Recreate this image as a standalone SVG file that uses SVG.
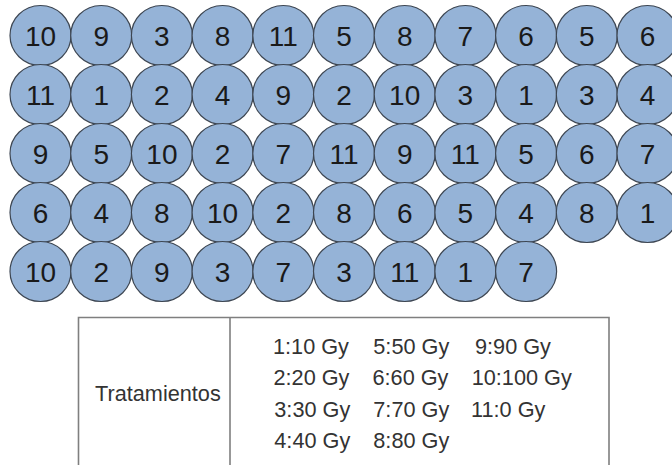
<svg xmlns="http://www.w3.org/2000/svg" width="672" height="465" viewBox="0 0 672 465">
<style>
.c ellipse{fill:#95b3d7;stroke:#3d4652;stroke-width:1.2}
.c text{font-family:"Liberation Sans",Arial,sans-serif;font-size:28px;fill:#1a1a1a;text-anchor:middle}
.t{font-family:"Liberation Sans",Arial,sans-serif;font-size:21.7px;fill:#333}
.tb{fill:none;stroke:#7f7f7f;stroke-width:1.6}
</style>
<rect width="672" height="465" fill="#fff"/>
<g id="wells">
<g id="r0" class="c">
<g id="n0_0"><ellipse cx="40.5" cy="35.5" rx="30.5" ry="30"/><text x="40.5" y="46">10</text></g>
<g id="n0_1"><ellipse cx="101.2" cy="35.5" rx="30.5" ry="30"/><text x="101.2" y="46">9</text></g>
<g id="n0_2"><ellipse cx="161.9" cy="35.5" rx="30.5" ry="30"/><text x="161.9" y="46">3</text></g>
<g id="n0_3"><ellipse cx="222.6" cy="35.5" rx="30.5" ry="30"/><text x="222.6" y="46">8</text></g>
<g id="n0_4"><ellipse cx="283.3" cy="35.5" rx="30.5" ry="30"/><text x="283.3" y="46">11</text></g>
<g id="n0_5"><ellipse cx="344" cy="35.5" rx="30.5" ry="30"/><text x="344" y="46">5</text></g>
<g id="n0_6"><ellipse cx="404.7" cy="35.5" rx="30.5" ry="30"/><text x="404.7" y="46">8</text></g>
<g id="n0_7"><ellipse cx="465.4" cy="35.5" rx="30.5" ry="30"/><text x="465.4" y="46">7</text></g>
<g id="n0_8"><ellipse cx="526.1" cy="35.5" rx="30.5" ry="30"/><text x="526.1" y="46">6</text></g>
<g id="n0_9"><ellipse cx="586.8" cy="35.5" rx="30.5" ry="30"/><text x="586.8" y="46">5</text></g>
<g id="n0_10"><ellipse cx="647.5" cy="35.5" rx="30.5" ry="30"/><text x="647.5" y="46">6</text></g>
</g>
<g id="r1" class="c">
<g id="n1_0"><ellipse cx="40.5" cy="94.5" rx="30.5" ry="30"/><text x="40.5" y="105">11</text></g>
<g id="n1_1"><ellipse cx="101.2" cy="94.5" rx="30.5" ry="30"/><text x="101.2" y="105">1</text></g>
<g id="n1_2"><ellipse cx="161.9" cy="94.5" rx="30.5" ry="30"/><text x="161.9" y="105">2</text></g>
<g id="n1_3"><ellipse cx="222.6" cy="94.5" rx="30.5" ry="30"/><text x="222.6" y="105">4</text></g>
<g id="n1_4"><ellipse cx="283.3" cy="94.5" rx="30.5" ry="30"/><text x="283.3" y="105">9</text></g>
<g id="n1_5"><ellipse cx="344" cy="94.5" rx="30.5" ry="30"/><text x="344" y="105">2</text></g>
<g id="n1_6"><ellipse cx="404.7" cy="94.5" rx="30.5" ry="30"/><text x="404.7" y="105">10</text></g>
<g id="n1_7"><ellipse cx="465.4" cy="94.5" rx="30.5" ry="30"/><text x="465.4" y="105">3</text></g>
<g id="n1_8"><ellipse cx="526.1" cy="94.5" rx="30.5" ry="30"/><text x="526.1" y="105">1</text></g>
<g id="n1_9"><ellipse cx="586.8" cy="94.5" rx="30.5" ry="30"/><text x="586.8" y="105">3</text></g>
<g id="n1_10"><ellipse cx="647.5" cy="94.5" rx="30.5" ry="30"/><text x="647.5" y="105">4</text></g>
</g>
<g id="r2" class="c">
<g id="n2_0"><ellipse cx="40.5" cy="153.5" rx="30.5" ry="30"/><text x="40.5" y="164">9</text></g>
<g id="n2_1"><ellipse cx="101.2" cy="153.5" rx="30.5" ry="30"/><text x="101.2" y="164">5</text></g>
<g id="n2_2"><ellipse cx="161.9" cy="153.5" rx="30.5" ry="30"/><text x="161.9" y="164">10</text></g>
<g id="n2_3"><ellipse cx="222.6" cy="153.5" rx="30.5" ry="30"/><text x="222.6" y="164">2</text></g>
<g id="n2_4"><ellipse cx="283.3" cy="153.5" rx="30.5" ry="30"/><text x="283.3" y="164">7</text></g>
<g id="n2_5"><ellipse cx="344" cy="153.5" rx="30.5" ry="30"/><text x="344" y="164">11</text></g>
<g id="n2_6"><ellipse cx="404.7" cy="153.5" rx="30.5" ry="30"/><text x="404.7" y="164">9</text></g>
<g id="n2_7"><ellipse cx="465.4" cy="153.5" rx="30.5" ry="30"/><text x="465.4" y="164">11</text></g>
<g id="n2_8"><ellipse cx="526.1" cy="153.5" rx="30.5" ry="30"/><text x="526.1" y="164">5</text></g>
<g id="n2_9"><ellipse cx="586.8" cy="153.5" rx="30.5" ry="30"/><text x="586.8" y="164">6</text></g>
<g id="n2_10"><ellipse cx="647.5" cy="153.5" rx="30.5" ry="30"/><text x="647.5" y="164">7</text></g>
</g>
<g id="r3" class="c">
<g id="n3_0"><ellipse cx="40.5" cy="212.5" rx="30.5" ry="30"/><text x="40.5" y="223">6</text></g>
<g id="n3_1"><ellipse cx="101.2" cy="212.5" rx="30.5" ry="30"/><text x="101.2" y="223">4</text></g>
<g id="n3_2"><ellipse cx="161.9" cy="212.5" rx="30.5" ry="30"/><text x="161.9" y="223">8</text></g>
<g id="n3_3"><ellipse cx="222.6" cy="212.5" rx="30.5" ry="30"/><text x="222.6" y="223">10</text></g>
<g id="n3_4"><ellipse cx="283.3" cy="212.5" rx="30.5" ry="30"/><text x="283.3" y="223">2</text></g>
<g id="n3_5"><ellipse cx="344" cy="212.5" rx="30.5" ry="30"/><text x="344" y="223">8</text></g>
<g id="n3_6"><ellipse cx="404.7" cy="212.5" rx="30.5" ry="30"/><text x="404.7" y="223">6</text></g>
<g id="n3_7"><ellipse cx="465.4" cy="212.5" rx="30.5" ry="30"/><text x="465.4" y="223">5</text></g>
<g id="n3_8"><ellipse cx="526.1" cy="212.5" rx="30.5" ry="30"/><text x="526.1" y="223">4</text></g>
<g id="n3_9"><ellipse cx="586.8" cy="212.5" rx="30.5" ry="30"/><text x="586.8" y="223">8</text></g>
<g id="n3_10"><ellipse cx="647.5" cy="212.5" rx="30.5" ry="30"/><text x="647.5" y="223">1</text></g>
</g>
<g id="r4" class="c">
<g id="n4_0"><ellipse cx="40.5" cy="271.5" rx="30.5" ry="30"/><text x="40.5" y="282">10</text></g>
<g id="n4_1"><ellipse cx="101.2" cy="271.5" rx="30.5" ry="30"/><text x="101.2" y="282">2</text></g>
<g id="n4_2"><ellipse cx="161.9" cy="271.5" rx="30.5" ry="30"/><text x="161.9" y="282">9</text></g>
<g id="n4_3"><ellipse cx="222.6" cy="271.5" rx="30.5" ry="30"/><text x="222.6" y="282">3</text></g>
<g id="n4_4"><ellipse cx="283.3" cy="271.5" rx="30.5" ry="30"/><text x="283.3" y="282">7</text></g>
<g id="n4_5"><ellipse cx="344" cy="271.5" rx="30.5" ry="30"/><text x="344" y="282">3</text></g>
<g id="n4_6"><ellipse cx="404.7" cy="271.5" rx="30.5" ry="30"/><text x="404.7" y="282">11</text></g>
<g id="n4_7"><ellipse cx="465.4" cy="271.5" rx="30.5" ry="30"/><text x="465.4" y="282">1</text></g>
<g id="n4_8"><ellipse cx="526.1" cy="271.5" rx="30.5" ry="30"/><text x="526.1" y="282">7</text></g>
</g>
</g>
<g id="legend">
<path class="tb" d="M78.5 470 V317.5 H609 V470 M230 317.5 V470"/>
<text class="t" x="95" y="400.5">Tratamientos</text>
<text class="t" x="273" y="354">1:10 Gy</text>
<text class="t" x="273.5" y="385.3">2:20 Gy</text>
<text class="t" x="274.3" y="416.6">3:30 Gy</text>
<text class="t" x="274.3" y="448">4:40 Gy</text>
<text class="t" x="373.3" y="354">5:50 Gy</text>
<text class="t" x="372.5" y="385.3">6:60 Gy</text>
<text class="t" x="373.3" y="416.6">7:70 Gy</text>
<text class="t" x="373.3" y="448">8:80 Gy</text>
<text class="t" x="475" y="354">9:90 Gy</text>
<text class="t" x="471.7" y="385.3">10:100 Gy</text>
<text class="t" x="471" y="416.6">11:0 Gy</text>
</g>
</svg>
